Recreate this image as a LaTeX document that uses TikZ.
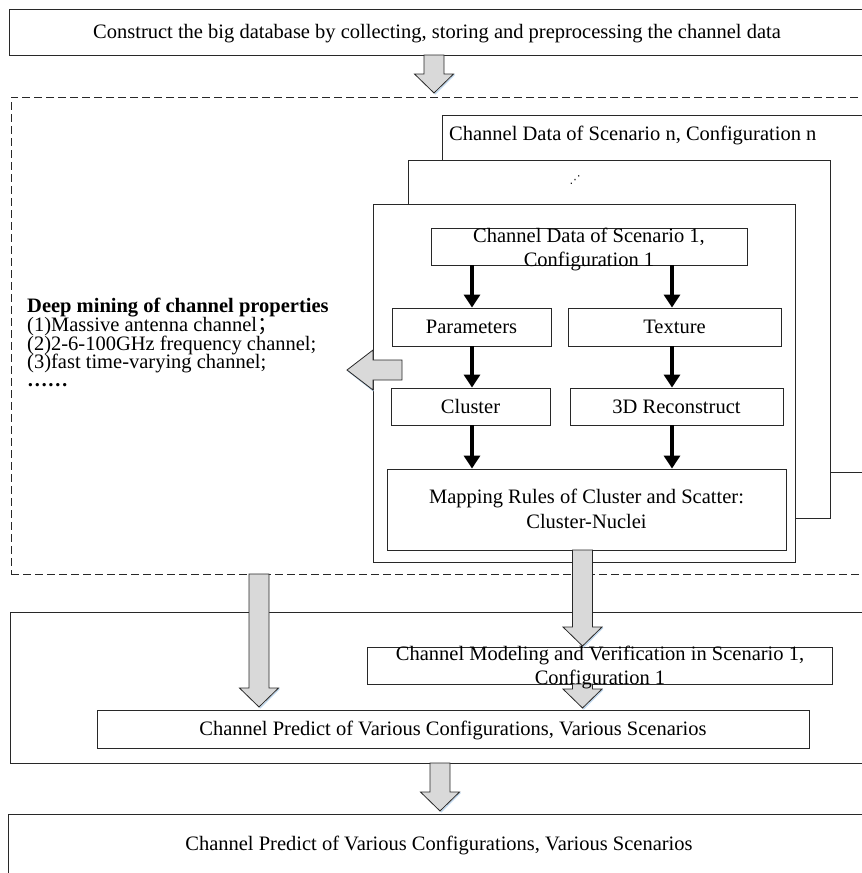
\documentclass[tikz,border=0pt]{standalone}
\usepackage{fontspec}
\setmainfont{Liberation Serif}
\newfontfamily\cjkfont{Noto Sans CJK SC}
\newfontfamily\dvfont{DejaVu Sans}
\usetikzlibrary{arrows.meta,calc}
\definecolor{boxline}{RGB}{40,40,40}
\definecolor{shadeblue}{RGB}{190,215,238}
\tikzset{
  box/.style={draw=boxline, line width=0.9pt, fill=white, inner sep=0pt},
  dashbox/.style={draw=boxline, line width=0.9pt, dash pattern=on 8pt off 4pt, inner sep=0pt},
  txt/.style={inner sep=0pt, anchor=base, font=\fontsize{20.5}{25}\selectfont},
  ltxt/.style={inner sep=0pt, anchor=base west, font=\fontsize{20.5}{25}\selectfont},
  thickarrow/.style={line width=3.3pt, -{Triangle[width=16pt,length=13pt]}},
  blockarrow/.style={draw=boxline, line width=0.8pt, fill=gray!30, line join=miter},
  blockshadow/.style={draw=shadeblue, line width=1.2pt}
}
\newcommand\vblock[2]{%
  \draw[blockshadow] let \p1=(#1), \p2=(#2) in (\x1+20.5pt,\y2+18.5pt) -- (\x1+0.8pt,\y2-1.2pt);
  \draw[blockarrow] let \p1=(#1), \p2=(#2) in
    (\x1-10pt,\y1) -- (\x1+10pt,\y1) -- (\x1+10pt,\y2+19pt) -- (\x1+19.5pt,\y2+19pt)
    -- (\x1,\y2) -- (\x1-19.5pt,\y2+19pt) -- (\x1-10pt,\y2+19pt) -- cycle;}
\begin{document}
\begin{tikzpicture}[x=1pt,y=-1pt]
\path[use as bounding box, clip] (0,0) rectangle (862,873);

% top box
\node[box, minimum width=871pt, minimum height=46pt] (topbox) at (444.5,32) {};
\node[txt] (toptext) at (437,38) {Construct the big database by collecting, storing and preprocessing the channel data};

% dashed region
\node[dashbox, minimum width=869pt, minimum height=477pt] (dashed) at (445.5,335.5) {};

% stacked scenario boxes
\node[box, minimum width=422pt, minimum height=357pt] (boxn) at (653,293.5) {};
\node[ltxt] (boxntext) at (449,140) {Channel Data of Scenario n, Configuration n};
\node[box, minimum width=422pt, minimum height=358pt] (boxmid) at (619,339) {};
\node[inner sep=0pt, font=\dvfont\fontsize{11}{11}\selectfont] (dots) at (575,180) {⋰};
\node[box, minimum width=422pt, minimum height=358pt] (boxfront) at (584,383) {};

% inner boxes
\node[box, minimum width=316pt, minimum height=37pt] (inbox) at (589,246.5) {};
\node[txt] (inboxa) at (589,242) {Channel Data of Scenario 1,};
\node[txt] (inboxb) at (589,266) {Configuration 1};

\node[box, minimum width=159pt, minimum height=38pt] (param) at (471.5,327) {};
\node[txt] (paramt) at (471.5,333) {Parameters};
\node[box, minimum width=213pt, minimum height=38pt] (texture) at (674.5,327) {};
\node[txt] (texturet) at (674.5,333) {Texture};
\node[box, minimum width=159pt, minimum height=37pt] (cluster) at (470.5,406.5) {};
\node[txt] (clustert) at (470.5,413) {Cluster};
\node[box, minimum width=213pt, minimum height=37pt] (recon) at (676.5,406.5) {};
\node[txt] (recont) at (676.5,413) {3D Reconstruct};
\node[box, minimum width=399pt, minimum height=81pt] (mapping) at (586.5,509.5) {};
\node[txt] (mappinga) at (586.5,503) {Mapping Rules of Cluster and Scatter:};
\node[txt] (mappingb) at (586.5,528) {Cluster-Nuclei};

% thick arrows
\coordinate (colL) at (472,0);
\coordinate (colR) at (672,0);
\draw[thickarrow] (inbox.south -| colL) -- (param.north -| colL);
\draw[thickarrow] (inbox.south -| colR) -- (texture.north -| colR);
\draw[thickarrow] (param.south -| colL) -- (cluster.north -| colL);
\draw[thickarrow] (texture.south -| colR) -- (recon.north -| colR);
\draw[thickarrow] (cluster.south -| colL) -- (mapping.north -| colL);
\draw[thickarrow] (recon.south -| colR) -- (mapping.north -| colR);

% left text
\node[ltxt, font=\fontsize{20.5}{25}\selectfont\bfseries] (deep) at (27,312) {Deep mining of channel properties};
\node[ltxt] (p1) at (27,331) {(1)Massive antenna channel\smash{\cjkfont ；}};
\node[ltxt] (p2) at (27,350) {(2)2-6-100GHz frequency channel;};
\node[ltxt] (p3) at (27,368.5) {(3)fast time-varying channel;};
\node[ltxt, font=\fontsize{20.5}{25}\selectfont\bfseries] (p4) at (27,386.5) {……};

% left-pointing block arrow
\coordinate (aLs) at (402,370);
\coordinate (aLt) at (347,370);
\draw[blockshadow] let \p1=(aLs), \p2=(aLt) in (\x2+26.5pt,\y1-21pt) -- (\x2+1pt,\y1-1pt);
\draw[blockarrow] let \p1=(aLs), \p2=(aLt) in
  (\x1,\y1+10pt) -- (\x2+26pt,\y1+10pt) -- (\x2+26pt,\y1+20pt) -- (\x2,\y1)
  -- (\x2+26pt,\y1-20pt) -- (\x2+26pt,\y1-10pt) -- (\x1,\y1-10pt) -- cycle;

% lower section
\node[box, minimum width=870pt, minimum height=151pt] (section) at (445,687.5) {};
\node[box, minimum width=465pt, minimum height=37pt] (model) at (599.5,665.5) {};
\node[box, minimum width=712pt, minimum height=38pt] (predict) at (453,729) {};
\node[txt] (predictt) at (453,735) {Channel Predict of Various Configurations, Various Scenarios};
\node[box, minimum width=872pt, minimum height=86pt] (final) at (444,857) {};
\node[txt] (finalt) at (439,850) {Channel Predict of Various Configurations, Various Scenarios};

% block arrows
\coordinate (a1s) at (434,55);
\coordinate (a1t) at (434,93);
\vblock{a1s}{a1t}
\coordinate (a2s) at (582.5,550);
\coordinate (a2t) at (582.5,646);
\vblock{a2s}{a2t}
\coordinate (a3s) at (259,574);
\coordinate (a3t) at (259,707);
\vblock{a3s}{a3t}
\coordinate (a4s) at (582.5,684);
\coordinate (a4t) at (582.5,708);
\vblock{a4s}{a4t}
\coordinate (a5s) at (440,763);
\coordinate (a5t) at (440,811);
\vblock{a5s}{a5t}

\node[txt] (modela) at (600,660) {Channel Modeling and Verification in Scenario 1,};
\node[txt] (modelb) at (600,684) {Configuration 1};
\end{tikzpicture}
\end{document}
